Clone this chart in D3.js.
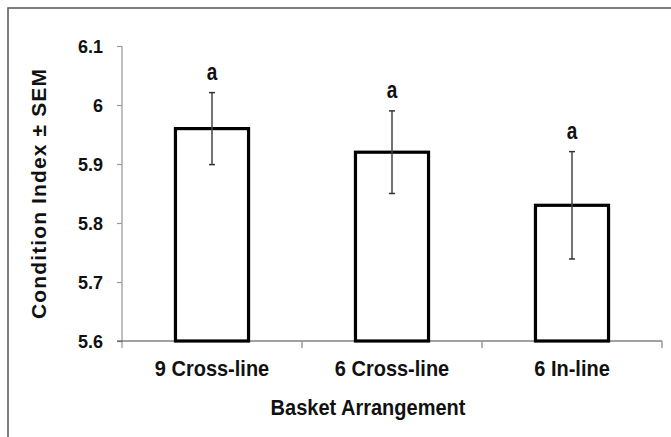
<!DOCTYPE html>
<html>
<head>
<meta charset="utf-8">
<script src="https://cdn.jsdelivr.net/npm/d3@7"></script>
<style>
  html, body { margin: 0; padding: 0; background: #fff; }
  svg { display: block; font-family: "Liberation Sans", Arial, sans-serif; font-weight: bold; }
</style>
</head>
<body>
<svg id="chart" width="671" height="437"></svg>
<script>
// Mean condition index per basket arrangement, with SEM and significance letters
const categories = ["9 Cross-line", "6 Cross-line", "6 In-line"];
const means = [5.96, 5.92, 5.83];
const sems = [0.061, 0.07, 0.091];
const letters = ["a", "a", "a"];
const yTicks = [5.6, 5.7, 5.8, 5.9, 6.0, 6.1];
const yTickLabels = ["5.6", "5.7", "5.8", "5.9", "6", "6.1"];

const svg = d3.select("#chart");
const W = 671, H = 437;
const plot = { left: 122, right: 662, top: 46, bottom: 341 };
const FONT = "'Liberation Sans', Arial, sans-serif";

// outer frame (runs off the right and bottom edges)
svg.append("rect")
  .attr("x", 8).attr("y", 8)
  .attr("width", W + 20).attr("height", H + 20)
  .attr("fill", "none").attr("stroke", "#555").attr("stroke-width", 1.5);

const x = d3.scaleBand()
  .domain(categories)
  .range([plot.left, plot.right])
  .paddingInner(0.594)
  .paddingOuter(0.297);

const y = d3.scaleLinear()
  .domain([5.6, 6.1])
  .range([plot.bottom, plot.top]);

// y axis
const yAxis = svg.append("g")
  .attr("transform", `translate(${plot.left},0)`)
  .call(d3.axisLeft(y).tickValues(yTicks)
    .tickFormat((d, i) => yTickLabels[i])
    .tickSize(5).tickSizeOuter(0).tickPadding(19));
yAxis.select(".domain").remove();
yAxis.selectAll(".tick line").attr("stroke", "#999").attr("stroke-width", 1.2);
yAxis.selectAll(".tick text")
  .attr("fill", "#111")
  .attr("x", null).attr("dy", null)
  .attr("transform", "translate(-19,6.5) scale(1,1.05)")
  .style("font-size", "18px").style("font-weight", "bold")
  .style("font-family", FONT);
svg.append("line")
  .attr("x1", plot.left).attr("x2", plot.left)
  .attr("y1", plot.top).attr("y2", plot.bottom + 7)
  .attr("stroke", "#aaa").attr("stroke-width", 1.5);

// x axis baseline and category divider ticks
svg.append("line")
  .attr("x1", plot.left - 5).attr("x2", plot.right)
  .attr("y1", plot.bottom).attr("y2", plot.bottom)
  .attr("stroke", "#444").attr("stroke-width", 1.2);
const dividers = categories.map(c => x(c) + x.bandwidth() + x.step() * x.paddingInner() / 2);
svg.selectAll("line.divider")
  .data(dividers)
  .join("line")
  .attr("class", "divider")
  .attr("x1", d => d).attr("x2", d => d)
  .attr("y1", plot.bottom).attr("y2", plot.bottom + 7)
  .attr("stroke", "#999").attr("stroke-width", 1.5);

const xAxis = svg.append("g")
  .attr("transform", `translate(0,${plot.bottom})`)
  .call(d3.axisBottom(x).tickSize(0));
xAxis.select(".domain").remove();
xAxis.selectAll(".tick text")
  .attr("y", null).attr("dy", null)
  .attr("transform", "translate(0,35) scale(1,1.08)")
  .attr("fill", "#111")
  .style("font-size", "20px").style("font-weight", "bold")
  .style("font-family", FONT);

// bars
svg.selectAll("rect.bar")
  .data(categories)
  .join("rect")
  .attr("class", "bar")
  .attr("x", d => x(d))
  .attr("width", x.bandwidth())
  .attr("y", (d, i) => y(means[i]))
  .attr("height", (d, i) => y(5.6) - y(means[i]))
  .attr("fill", "#fff")
  .attr("stroke", "#000")
  .attr("stroke-width", 3.2);

// error bars
const eb = svg.selectAll("g.err")
  .data(categories)
  .join("g")
  .attr("class", "err")
  .attr("transform", d => `translate(${x(d) + x.bandwidth() / 2},0)`);
eb.append("line")
  .attr("y1", (d, i) => y(means[i] + sems[i]))
  .attr("y2", (d, i) => y(means[i] - sems[i]))
  .attr("stroke", "#444").attr("stroke-width", 1.5);
eb.append("line")
  .attr("x1", -3).attr("x2", 3)
  .attr("y1", (d, i) => y(means[i] + sems[i]))
  .attr("y2", (d, i) => y(means[i] + sems[i]))
  .attr("stroke", "#333").attr("stroke-width", 1.5);
eb.append("line")
  .attr("x1", -3).attr("x2", 3)
  .attr("y1", (d, i) => y(means[i] - sems[i]))
  .attr("y2", (d, i) => y(means[i] - sems[i]))
  .attr("stroke", "#333").attr("stroke-width", 1.5);

// significance letters
eb.append("text")
  .attr("text-anchor", "middle")
  .attr("transform", (d, i) => `translate(0,${y(means[i] + sems[i]) - 13}) scale(1,1.25)`)
  .attr("fill", "#111")
  .style("font-size", "19px")
  .text((d, i) => letters[i]);

// axis titles
svg.append("text")
  .attr("transform", "translate(368,415) scale(1,1.07)")
  .attr("text-anchor", "middle")
  .attr("fill", "#111")
  .style("font-size", "20px")
  .text("Basket Arrangement");

svg.append("text")
  .attr("transform", "translate(46,194) rotate(-90)")
  .attr("text-anchor", "middle")
  .attr("fill", "#111")
  .style("font-size", "21px")
  .attr("textLength", 250)
  .attr("lengthAdjust", "spacing")
  .text("Condition Index ± SEM");
</script>
</body>
</html>
